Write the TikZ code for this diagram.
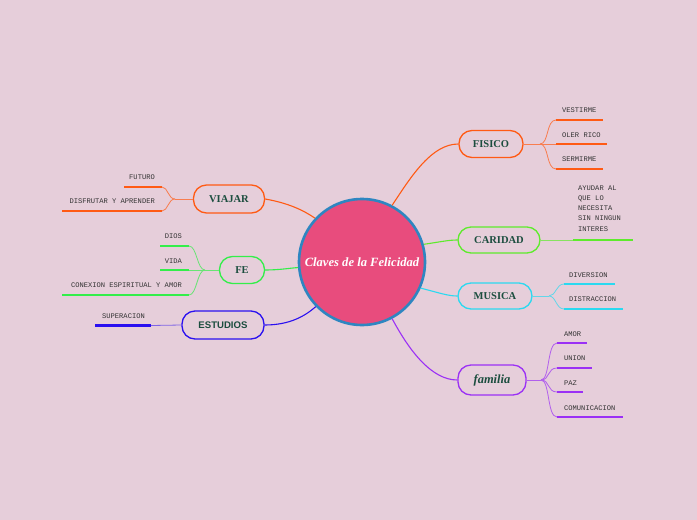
\documentclass[tikz,border=0pt]{standalone}
\usepackage{fontspec}
\setmainfont{Liberation Serif}
\newfontfamily\monof{Liberation Mono}
\newfontfamily\sansf{Liberation Sans}
\definecolor{bg}{HTML}{E6CEDA}
\definecolor{corange}{HTML}{FF5A14}
\definecolor{cgreenA}{HTML}{5EEB2C}
\definecolor{cgreenB}{HTML}{33EE4A}
\definecolor{ccyan}{HTML}{2BD9F0}
\definecolor{cpurple}{HTML}{9B30F5}
\definecolor{cblue}{HTML}{2A10F0}
\definecolor{cpink}{HTML}{E84C7D}
\definecolor{cring}{HTML}{2E86C1}
\definecolor{ctext}{HTML}{1B4D3E}
\definecolor{cchild}{HTML}{333333}
\tikzset{
  mainbox/.style={draw, line width=1.3pt, rounded corners=13pt, fill=bg, text=ctext,
    font=\bfseries\fontsize{10.5}{12}\selectfont, inner sep=0pt},
  conn/.style={line width=1.1pt},
  twig/.style={line width=0.8pt},
  uline/.style={line width=2.2pt},
  childtext/.style={font=\monof\fontsize{7.1}{8.2}\selectfont, text=cchild, inner sep=0pt, anchor=base west}
}
\begin{document}
\begin{tikzpicture}[x=1pt,y=-1pt]
\useasboundingbox (0,0) rectangle (697,520);
\fill[bg] (0,0) rectangle (697,520);

% central
\node[circle, fill=cpink, draw=cring, line width=2.6pt, minimum size=126pt, inner sep=0pt,
  text=white, font=\bfseries\itshape\fontsize{12.6}{13}\selectfont] (c) at (362,262) {Claves de la Felicidad};

% main nodes
\node[mainbox, draw=corange, minimum width=64pt, minimum height=27pt] (fisico) at (491,144) {FISICO};
\node[mainbox, draw=cgreenA, minimum width=82pt, minimum height=26pt] (caridad) at (499,240) {CARIDAD};
\node[mainbox, draw=ccyan, minimum width=74pt, minimum height=26pt] (musica) at (495,296) {MUSICA};
\node[mainbox, draw=cpurple, minimum width=68pt, minimum height=30pt, font=\bfseries\itshape\fontsize{12.5}{13}\selectfont] (familia) at (492,380) {familia};
\node[mainbox, draw=corange, minimum width=71pt, minimum height=28pt] (viajar) at (229,199) {VIAJAR};
\node[mainbox, draw=cgreenB, minimum width=45pt, minimum height=27pt] (fe) at (242,270) {FE};
\node[mainbox, draw=cblue, minimum width=82pt, minimum height=28pt, font=\sansf\bfseries\fontsize{9.6}{11}\selectfont] (estudios) at (223,325) {ESTUDIOS};

% connectors from the centre
\draw[conn, corange] (c.62) .. controls (412,175) and (432,144) .. (fisico.west);
\draw[conn, cgreenA] (c.16) .. controls (440,242) and (448,240) .. (caridad.west);
\draw[conn, ccyan] (c.-24) .. controls (440,293) and (448,296) .. (musica.west);
\draw[conn, cpurple] (c.-62) .. controls (410,352) and (432,380) .. (familia.west);
\draw[conn, corange] (viajar.east) .. controls (288,203) and (303,210) .. (c.137);
\draw[conn, cgreenB] (fe.east) .. controls (280,270) and (290,268) .. (c.185);
\draw[conn, cblue] (estudios.east) .. controls (290,325) and (305,316) .. (c.-136);

% ---- FISICO children
\coordinate (fb) at (540,144);
\draw[twig, corange!70!bg] (fisico.east) -- (fb);
\coordinate (f1a) at (556,120); \coordinate (f1b) at (603,120);
\coordinate (f2a) at (556,144); \coordinate (f2b) at (607,144);
\coordinate (f3a) at (556,169); \coordinate (f3b) at (603,169);
\draw[twig, corange!70!bg] (fb) .. controls (549,144) and (546,120) .. (f1a);
\draw[twig, corange!70!bg] (fb) -- (f2a);
\draw[twig, corange!70!bg] (fb) .. controls (549,144) and (546,169) .. (f3a);
\draw[uline, corange] (f1a) -- (f1b);
\draw[uline, corange] (f2a) -- (f2b);
\draw[uline, corange] (f3a) -- (f3b);
\node[childtext] (ft1) at (562,112.5) {VESTIRME};
\node[childtext] (ft2) at (562,137.5) {OLER RICO};
\node[childtext] (ft3) at (562,161.5) {SERMIRME};

% ---- CARIDAD child
\coordinate (k1a) at (573,240); \coordinate (k1b) at (633,240);
\draw[twig, cgreenA!70!bg] (caridad.east) -- (k1a);
\draw[uline, cgreenA] (k1a) -- (k1b);
\node[childtext, anchor=north west, align=left, font=\monof\fontsize{7.1}{10.2}\selectfont] (kt1) at (578,185.5)
  {AYUDAR AL\\QUE LO\\NECESITA\\SIN NINGUN\\INTERES};

% ---- MUSICA children
\coordinate (mb) at (549,296);
\draw[twig, ccyan!70!bg] (musica.east) -- (mb);
\coordinate (m1a) at (564,284); \coordinate (m1b) at (615,284);
\coordinate (m2a) at (564,309); \coordinate (m2b) at (623,309);
\draw[twig, ccyan!70!bg] (mb) .. controls (556,296) and (556,284) .. (m1a);
\draw[twig, ccyan!70!bg] (mb) .. controls (556,296) and (556,309) .. (m2a);
\draw[uline, ccyan] (m1a) -- (m1b);
\draw[uline, ccyan] (m2a) -- (m2b);
\node[childtext] (mt1) at (569,277.5) {DIVERSION};
\node[childtext] (mt2) at (569,301.5) {DISTRACCION};

% ---- familia children
\coordinate (pb) at (541,380);
\draw[twig, cpurple!70!bg] (familia.east) -- (pb);
\coordinate (p1a) at (557,343); \coordinate (p1b) at (587,343);
\coordinate (p2a) at (557,368); \coordinate (p2b) at (592,368);
\coordinate (p3a) at (557,392); \coordinate (p3b) at (583,392);
\coordinate (p4a) at (557,417); \coordinate (p4b) at (623,417);
\draw[twig, cpurple!70!bg] (pb) .. controls (550,380) and (547,343) .. (p1a);
\draw[twig, cpurple!70!bg] (pb) .. controls (550,380) and (547,368) .. (p2a);
\draw[twig, cpurple!70!bg] (pb) .. controls (550,380) and (547,392) .. (p3a);
\draw[twig, cpurple!70!bg] (pb) .. controls (550,380) and (547,417) .. (p4a);
\draw[uline, cpurple] (p1a) -- (p1b);
\draw[uline, cpurple] (p2a) -- (p2b);
\draw[uline, cpurple] (p3a) -- (p3b);
\draw[uline, cpurple] (p4a) -- (p4b);
\node[childtext] (pt1) at (564,336.5) {AMOR};
\node[childtext] (pt2) at (564,360.5) {UNION};
\node[childtext] (pt3) at (564,385.5) {PAZ};
\node[childtext] (pt4) at (564,410.5) {COMUNICACION};

% ---- VIAJAR children
\coordinate (vb) at (175,199);
\draw[twig, corange!70!bg] (viajar.west) -- (vb);
\coordinate (v1a) at (162,187); \coordinate (v1b) at (124,187);
\coordinate (v2a) at (162,211); \coordinate (v2b) at (62,211);
\draw[twig, corange!70!bg] (vb) .. controls (168,199) and (168,187) .. (v1a);
\draw[twig, corange!70!bg] (vb) .. controls (168,199) and (168,211) .. (v2a);
\draw[uline, corange] (v1a) -- (v1b);
\draw[uline, corange] (v2a) -- (v2b);
\node[childtext, anchor=base east] (vt1) at (155,179.5) {FUTURO};
\node[childtext, anchor=base east] (vt2) at (155,203.5) {DISFRUTAR Y APRENDER};

% ---- FE children
\coordinate (eb) at (205,270);
\draw[twig, cgreenB!70!bg] (fe.west) -- (eb);
\coordinate (e1a) at (189,246); \coordinate (e1b) at (160,246);
\coordinate (e2a) at (189,270); \coordinate (e2b) at (160,270);
\coordinate (e3a) at (189,295); \coordinate (e3b) at (62,295);
\draw[twig, cgreenB!70!bg] (eb) .. controls (197,270) and (197,246) .. (e1a);
\draw[twig, cgreenB!70!bg] (eb) -- (e2a);
\draw[twig, cgreenB!70!bg] (eb) .. controls (197,270) and (197,295) .. (e3a);
\draw[uline, cgreenB] (e1a) -- (e1b);
\draw[uline, cgreenB] (e2a) -- (e2b);
\draw[uline, cgreenB] (e3a) -- (e3b);
\node[childtext, anchor=base east] (et1) at (182,238.5) {DIOS};
\node[childtext, anchor=base east] (et2) at (182,263.5) {VIDA};
\node[childtext, anchor=base east] (et3) at (182,287.5) {CONEXION ESPIRITUAL Y AMOR};

% ---- ESTUDIOS child
\coordinate (s1a) at (151,325.5); \coordinate (s1b) at (95,325.5);
\draw[twig, cblue!55!bg] (estudios.west) -- (s1a);
\draw[uline, cblue] (s1a) -- (s1b);
\node[childtext, anchor=base east] (st1) at (145,318.5) {SUPERACION};
\end{tikzpicture}
\end{document}
